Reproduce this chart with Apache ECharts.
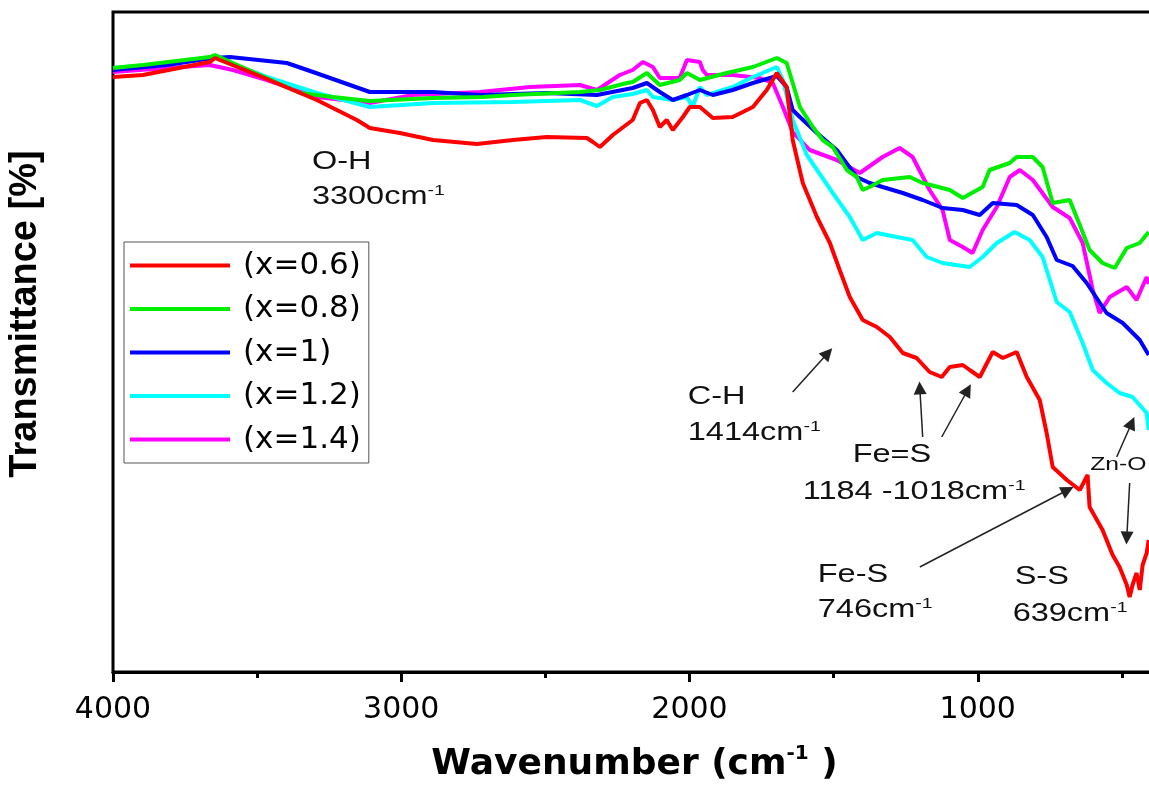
<!DOCTYPE html>
<html>
<head>
<meta charset="utf-8">
<title>FTIR</title>
<script src="https://cdn.jsdelivr.net/npm/echarts@6/dist/echarts.min.js"></script>
<style>
  html, body { margin: 0; padding: 0; background: #fff; }
  #main { width: 1149px; height: 787px; }
</style>
</head>
<body>
<div id="main"></div>
<script>
// wavenumber (cm-1), transmittance (a.u. %)
var x06 = [[4000,79.5],[3896,79.7],[3664,81.0],[3646,81.4],[3466,79.3],[3351,77.9],[3293,77.2],[3154,75.2],[3109,74.4],[3005,73.9],[2890,73.2],[2738,72.8],[2613,73.2],[2495,73.5],[2356,73.4],[2335,73.0],[2311,72.5],[2266,73.7],[2197,75.2],[2172,76.9],[2148,77.2],[2127,76.2],[2103,74.5],[2079,75.2],[2058,74.2],[2023,75.5],[1999,76.5],[1964,76.5],[1919,75.4],[1850,75.5],[1780,76.5],[1732,78.2],[1697,79.9],[1663,78.5],[1642,73.2],[1607,68.9],[1558,65.5],[1513,62.9],[1479,60.2],[1444,57.5],[1399,55.2],[1350,54.5],[1305,53.5],[1260,51.9],[1212,51.4],[1167,50.0],[1125,49.5],[1097,50.5],[1052,50.7],[1028,50.2],[993,49.5],[948,52.0],[913,51.4],[865,52.0],[830,49.5],[785,47.2],[761,43.9],[740,40.5],[691,39.2],[646,38.2],[619,39.7],[612,36.5],[567,34.2],[532,31.7],[508,30.5],[483,28.7],[473,27.5],[463,28.7],[449,29.9],[438,28.2],[428,30.7],[414,31.9],[407,33.2]];
var x08 = [[4000,80.4],[3896,80.7],[3664,81.5],[3646,81.7],[3351,77.9],[3237,77.5],[3109,77.1],[2890,77.4],[2717,77.5],[2613,77.7],[2380,78.0],[2311,78.2],[2217,78.9],[2197,79.0],[2148,79.9],[2103,78.7],[2034,79.2],[2009,79.9],[1964,79.2],[1871,79.9],[1780,80.5],[1697,81.4],[1663,80.9],[1642,78.9],[1617,76.5],[1572,74.5],[1538,73.2],[1503,72.5],[1454,70.2],[1420,69.5],[1399,68.2],[1375,68.5],[1330,69.2],[1236,69.5],[1191,68.9],[1097,68.2],[1052,67.4],[983,68.5],[959,70.2],[889,70.9],[865,71.5],[809,71.5],[775,70.5],[740,66.9],[681,67.2],[646,64.7],[612,62.2],[567,60.9],[525,60.4],[483,62.4],[438,62.9],[407,64.0]];
var x10 = [[4000,80.2],[3813,80.7],[3653,81.4],[3594,81.5],[3397,80.9],[3306,80.0],[3237,79.3],[3109,78.0],[2890,78.0],[2727,77.7],[2495,77.9],[2321,77.7],[2197,78.4],[2148,78.9],[2103,78.0],[2058,77.2],[2009,77.7],[1964,78.2],[1919,77.7],[1850,78.2],[1780,78.9],[1697,79.6],[1663,78.5],[1642,76.2],[1617,75.5],[1558,73.9],[1489,72.2],[1420,69.5],[1375,68.9],[1330,68.5],[1260,67.9],[1191,67.2],[1122,66.4],[1052,66.2],[993,65.7],[948,66.9],[865,66.7],[809,65.7],[761,63.5],[726,61.2],[671,60.6],[622,58.9],[553,55.9],[497,54.9],[438,53.2],[407,51.7]];
var x12 = [[4000,80.4],[3757,81.0],[3653,81.5],[3466,79.5],[3293,77.9],[3109,76.5],[2890,76.9],[2613,77.0],[2380,77.2],[2321,76.6],[2266,77.5],[2197,77.8],[2148,78.2],[2127,77.5],[2058,77.2],[2009,77.5],[1989,76.5],[1964,78.5],[1940,77.7],[1850,78.5],[1780,79.5],[1697,80.5],[1676,79.2],[1642,75.2],[1593,71.7],[1503,67.9],[1444,65.5],[1399,63.2],[1350,63.9],[1281,63.5],[1226,63.2],[1177,61.5],[1122,60.9],[1028,60.5],[983,61.5],[934,62.9],[872,64.0],[820,63.2],[775,61.5],[726,57.0],[681,56.0],[636,52.9],[601,50.2],[553,48.9],[508,47.9],[463,47.5],[414,45.9],[407,44.2]];
var x14 = [[4000,80.0],[3813,80.4],[3664,80.7],[3584,80.2],[3466,79.2],[3293,77.5],[3109,76.9],[2960,77.7],[2727,78.0],[2554,78.5],[2380,78.7],[2321,78.2],[2242,79.7],[2197,80.2],[2162,81.0],[2127,80.5],[2103,79.4],[2034,79.4],[2009,81.2],[1964,81.0],[1954,80.2],[1940,79.7],[1850,79.7],[1756,79.4],[1711,78.9],[1676,76.5],[1642,74.0],[1583,72.2],[1489,71.2],[1409,69.9],[1330,71.5],[1271,72.4],[1226,71.5],[1167,68.2],[1122,66.2],[1097,63.2],[1052,62.5],[1018,61.9],[983,64.2],[934,66.5],[889,69.5],[854,70.2],[809,69.2],[740,66.5],[681,65.4],[636,62.9],[601,58.2],[577,55.9],[542,57.5],[483,58.5],[449,57.2],[414,59.5],[407,58.8]];

var seriesNames = ['(x=0.6)', '(x=0.8)', '(x=1)', '(x=1.2)', '(x=1.4)'];
var seriesColors = ['#ff0000', '#00ee00', '#0000ff', '#00ffff', '#ff00ff'];
var seriesData = [x06, x08, x10, x12, x14];

// arrows: [from, to] in wavenumber / transmittance
var arrows = [
    [[1642, 48.0], [1520, 51.9]],
    [[1191, 43.5], [1201, 48.4]],
    [[1125, 43.5], [1035, 48.2]],
    [[1201, 30.5], [688, 38.2]],
    [[518, 41.5], [466, 44.9]],
    [[473, 38.9], [483, 33.4]]
];
// labels: text, superscript, anchor (left, middle), font size
var labels = [
    ['O-H', '', [3310, 71.0], 25],
    ['3300cm', '-1', [3310, 67.5], 25],
    ['C-H', '', [2006, 47.5], 25],
    ['1414cm', '-1', [2006, 43.9], 25],
    ['Fe=S', '', [1434, 41.7], 25],
    ['1184 -1018cm', '-1', [1607, 38.0], 25],
    ['Fe-S', '', [1555, 29.7], 25],
    ['746cm', '-1', [1555, 26.2], 25],
    ['S-S', '', [872, 29.5], 25],
    ['639cm', '-1', [879, 25.8], 25],
    ['Zn-O', '', [610, 40.7], 19]
];

var chart = echarts.init(document.getElementById('main'));

var series = seriesData.map(function (d, i) {
    return {
        name: seriesNames[i],
        type: 'line',
        data: d,
        showSymbol: false,
        symbol: 'none',
        lineStyle: { width: 4, color: seriesColors[i] },
        itemStyle: { color: seriesColors[i] },
        z: 5 - i
    };
});
series.push({
    name: 'arrows',
    type: 'line',
    data: [],
    silent: true,
    markLine: {
        silent: true,
        symbol: ['none', 'triangle'],
        symbolSize: 13,
        label: { show: false },
        lineStyle: { color: '#222', width: 1.5, type: 'solid' },
        itemStyle: { color: '#111' },
        data: arrows.map(function (a) {
            return [{ coord: a[0] }, { coord: a[1] }];
        })
    }
});

var option = {
    animation: false,
    backgroundColor: '#fff',
    grid: {
        left: 113, top: 12, width: 1153, height: 660,
        outerBoundsMode: 'none',
        containLabel: false,
        show: true, borderColor: '#000', borderWidth: 3
    },
    legend: {
        data: seriesNames,
        orient: 'vertical',
        left: 124, top: 242,
        icon: 'rect',
        itemWidth: 100, itemHeight: 4,
        itemGap: 12.5,
        padding: [8, 8, 8, 6],
        borderColor: '#555', borderWidth: 1,
        textStyle: {
            fontFamily: 'DejaVu Sans', fontSize: 31, color: '#000',
            lineHeight: 30, padding: [0, 0, 0, 8]
        }
    },
    xAxis: {
        type: 'value',
        inverse: true,
        min: 0, max: 4000, interval: 1000,
        name: '{m|Wavenumber (cm}{s|-1}{m| )}',
        nameLocation: 'middle',
        nameGap: 72,
        nameTextStyle: {
            fontFamily: 'DejaVu Sans', fontWeight: 'bold', fontSize: 36, color: '#000',
            padding: [0, 110, 0, 0],
            rich: {
                m: { fontFamily: 'DejaVu Sans', fontWeight: 'bold', fontSize: 36, lineHeight: 42, color: '#000' },
                s: { fontFamily: 'DejaVu Sans', fontWeight: 'bold', fontSize: 20, lineHeight: 20, verticalAlign: 'top', color: '#000' }
            }
        },
        axisLine: { lineStyle: { color: '#000', width: 3 } },
        axisTick: { length: 10, lineStyle: { color: '#000', width: 3 } },
        minorTick: { show: true, splitNumber: 2, length: 6, lineStyle: { color: '#000', width: 3 } },
        axisLabel: {
            fontFamily: 'DejaVu Sans', fontSize: 30, color: '#000', margin: 23,
            formatter: function (v) { return String(v); }
        },
        splitLine: { show: false }
    },
    yAxis: {
        type: 'value',
        min: 20, max: 86,
        name: 'Transmittance [%]',
        nameLocation: 'middle',
        nameGap: 68,
        nameTextStyle: {
            fontFamily: 'Liberation Sans', fontWeight: 'bold', fontSize: 38, color: '#000',
            padding: [0, 0, 0, 56]
        },
        axisLine: { show: true, lineStyle: { color: '#000', width: 3 } },
        axisTick: { show: false },
        axisLabel: { show: false },
        splitLine: { show: false }
    },
    series: series
};
chart.setOption(option);

// annotation texts, placed from data coords
var graphics = labels.map(function (l) {
    var p = chart.convertToPixel({ gridIndex: 0 }, l[2]);
    var txt = l[1] ? '{n|' + l[0] + '}{s|' + l[1] + '}' : '{n|' + l[0] + '}';
    return {
        type: 'text',
        x: p[0], y: p[1],
        scaleX: 1.3,
        style: {
            text: txt,
            verticalAlign: 'middle',
            align: 'left',
            fill: '#111',
            rich: {
                n: { fontFamily: 'Liberation Sans', fontSize: l[3], lineHeight: 28, fill: '#111' },
                s: { fontFamily: 'Liberation Sans', fontSize: Math.round(l[3] * 0.6), lineHeight: 14, verticalAlign: 'top', fill: '#111' }
            }
        },
        z: 100
    };
});
chart.setOption({ graphic: graphics });
</script>
</body>
</html>
